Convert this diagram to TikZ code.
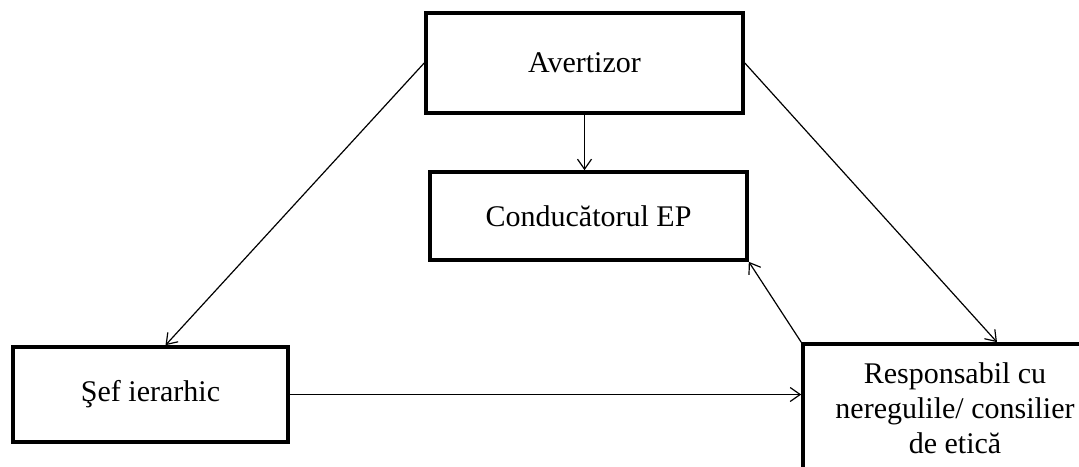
\documentclass[tikz,border=0pt]{standalone}
\usepackage{fontspec}
\setmainfont{Liberation Serif}
\usetikzlibrary{arrows.meta}
\tikzset{
  box/.style={draw, line width=1.8pt, align=center, inner sep=0pt,
    font=\fontsize{15}{17.5}\selectfont},
  link/.style={-{Straight Barb[length=5pt,width=7pt]}, line width=0.6pt}
}
\begin{document}
\begin{tikzpicture}[x=0.5pt,y=-0.5pt]
        \clip (0,0) rectangle (1079,466);
        % Nodes
        \node[box, minimum width=158.5pt, minimum height=50pt] (avertizor) at (584.5,63) {Avertizor};
        \node[box, minimum width=158.5pt, minimum height=44pt] (conducator) at (588.5,216) {Conducătorul EP};
        \node[box, minimum width=137.5pt, minimum height=47.5pt] (sef) at (150.5,394.5) {Şef ierarhic};
        \node[box, minimum width=152pt, minimum height=64pt] (resp) at (955,408) {Responsabil cu\\neregulile/ consilier\\de etică};
        % Arrows
        \draw[link] (avertizor.west) -- ([xshift=7.5pt]sef.north);
        \draw[link] (avertizor.east) -- ([xshift=21pt]resp.north);
        \draw[link] (avertizor.south) -- (avertizor.south |- conducator.north);
        \draw[link] (resp.north west) -- (conducator.south east);
        \draw[link] (sef.east) -- (sef.east -| resp.west);
\end{tikzpicture}
\end{document}
